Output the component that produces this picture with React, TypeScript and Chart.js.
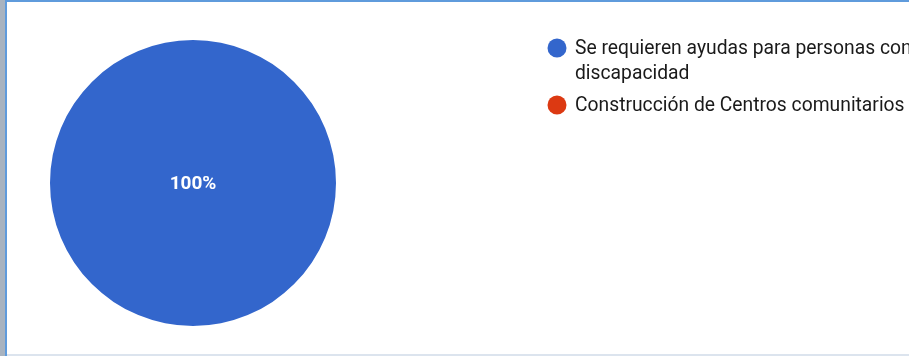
import React, { useEffect, useRef } from "react";
import { Chart, registerables } from "chart.js";

Chart.register(...registerables);

const categories: string[][] = [
  ["Se requieren ayudas para personas con", "discapacidad"],
  ["Construcción de Centros comunitarios"],
];
const values: number[] = [100, 0];
const colors: string[] = ["#3366cc", "#dc3912"];

const FONT = "Roboto, Arial, sans-serif";

const legendPlugin = {
  id: "gLegend",
  afterDraw(chart: any) {
    const ctx = chart.ctx;
    ctx.save();
    let y = 48;
    const x = 557;
    categories.forEach((lines, i) => {
      ctx.beginPath();
      ctx.fillStyle = colors[i];
      ctx.arc(x, y, 9.5, 0, Math.PI * 2);
      ctx.fill();
      ctx.fillStyle = "#1a1a1a";
      ctx.font = `19.3px ${FONT}`;
      ctx.textBaseline = "middle";
      ctx.textAlign = "left";
      lines.forEach((t, j) => {
        ctx.fillText(t, x + 18, y + 1 + j * 25);
      });
      y += 25 * lines.length + 7;
    });
    ctx.restore();
  },
};

const pctPlugin = {
  id: "pctLabels",
  afterDatasetsDraw(chart: any) {
    const ctx = chart.ctx;
    const meta = chart.getDatasetMeta(0);
    const total = values.reduce((a, b) => a + b, 0);
    ctx.save();
    ctx.fillStyle = "#ffffff";
    ctx.font = `bold 19px ${FONT}`;
    ctx.textAlign = "center";
    ctx.textBaseline = "middle";
    meta.data.forEach((arc: any, i: number) => {
      const v = values[i];
      if (!v) return;
      const pct = Math.round((v / total) * 100);
      let px = arc.x, py = arc.y;
      if (pct < 100) {
        const p = arc.tooltipPosition();
        px = p.x; py = p.y;
      }
      ctx.fillText(pct + "%", px, py + 1);
    });
    ctx.restore();
  },
};

export default function App() {
  const ref = useRef<HTMLCanvasElement>(null);
  useEffect(() => {
    document.body.style.margin = "0";
    const chart = new Chart(ref.current!, {
      type: "pie",
      data: {
        labels: categories.map((c) => c.join(" ")),
        datasets: [
          {
            data: values,
            backgroundColor: colors,
            borderWidth: 0,
          },
        ],
      },
      options: {
        animation: false,
        responsive: false,
        maintainAspectRatio: false,
        layout: { padding: { left: 50, right: 573, top: 40, bottom: 30 } },
        plugins: {
          legend: { display: false },
          tooltip: { enabled: false },
        },
      },
      plugins: [pctPlugin, legendPlugin],
    });
    return () => chart.destroy();
  }, []);
  return (
    <div style={{ position: "relative", width: 909, height: 356, overflow: "hidden", background: "#ffffff" }}>
      <div style={{ position: "absolute", left: 0, top: 0, width: 5, height: 356, background: "#a8b3c0" }} />
      <div style={{ position: "absolute", left: 5, top: 0, width: 2, height: 356, background: "#5f9bdc" }} />
      <div style={{ position: "absolute", left: 5, top: 0, width: 904, height: 2, background: "#5f9bdc" }} />
      <div style={{ position: "absolute", left: 7, top: 354, width: 902, height: 2, background: "#dce4ee" }} />
      <canvas ref={ref} width={909} height={356} style={{ position: "absolute", left: 0, top: 0, width: 909, height: 356 }} />
    </div>
  );
}
